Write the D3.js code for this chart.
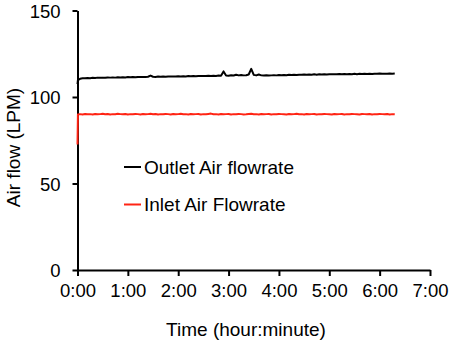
<!DOCTYPE html>
<html><head><meta charset="utf-8">
<script src="https://cdn.jsdelivr.net/npm/d3@7"></script>
<style>
html,body{margin:0;padding:0;background:#fff;}
svg{display:block;font-family:"Liberation Sans",Arial,sans-serif;}
</style></head>
<body>
<svg id="c" width="450" height="343"></svg>
<script>
// time in minutes
const times = [0, 0.5].concat(d3.range(3, 381, 3));
const outletFlow = [107.5, 109.8,
 110.5,110.8,110.9,111.0,110.9,111.1,111.0,111.2,111.1,111.2,
 111.1,111.3,111.2,111.3,111.2,111.4,111.3,111.4,111.3,111.5,
 111.4,111.5,111.4,111.6,111.5,111.6,111.5,111.7,112.4,111.7,
 111.6,111.8,111.7,111.8,111.7,111.9,111.8,111.9,111.8,112.0,
 111.9,112.0,111.9,112.1,112.0,112.1,112.0,112.2,112.1,112.2,
 112.1,112.3,112.2,112.3,112.2,112.4,112.3,114.8,112.4,112.3,
 112.6,112.4,112.9,112.5,112.7,112.5,112.6,113.0,116.3,112.8,
 112.5,113.0,112.5,112.4,112.6,112.4,112.5,112.6,112.5,112.7,
 112.6,112.7,112.6,112.9,112.7,112.8,112.7,112.9,112.8,113.0,
 112.8,113.0,112.9,113.1,112.9,113.1,113.0,113.2,113.0,113.2,
 113.1,113.2,113.1,113.3,113.1,113.3,113.2,113.3,113.2,113.4,
 113.2,113.4,113.3,113.5,113.3,113.4,113.3,113.5,113.4,113.6,
 113.4,113.5,113.4,113.6,113.5,113.6];
const inletFlow = [72.5, 89.9,
 90.1,89.9,90.2,90.0,90.1,89.9,90.2,90.0,90.1,90.3,
 90.0,90.2,89.9,90.1,90.0,90.3,90.1,90.0,90.2,89.9,
 90.1,90.0,90.2,90.1,89.9,90.2,90.0,90.1,90.3,90.0,
 90.2,89.9,90.1,90.0,90.2,90.1,89.9,90.2,90.0,90.1,
 90.3,90.0,90.1,89.9,90.2,90.0,90.1,90.2,89.9,90.1,
 90.0,90.2,90.4,90.0,90.1,89.9,90.2,90.0,90.1,90.2,
 89.9,90.1,90.0,90.2,90.1,89.9,90.0,90.2,90.3,90.0,
 90.1,89.9,90.2,90.0,90.1,90.2,89.9,90.1,90.0,90.2,
 90.1,90.0,89.9,90.2,90.0,90.1,90.3,90.0,90.1,89.9,
 90.2,90.0,90.1,90.2,89.9,90.1,90.0,90.2,90.1,90.0,
 89.9,90.2,90.0,90.1,90.2,89.9,90.1,90.0,90.2,90.1,
 90.0,89.9,90.2,90.1,90.0,90.2,89.9,90.1,90.0,90.2,
 90.1,90.0,90.2,89.9,90.1,90.0];
const xTickValues = [0, 60, 120, 180, 240, 300, 360, 420];
const xTickLabels = ["0:00","1:00","2:00","3:00","4:00","5:00","6:00","7:00"];
const yTickValues = [0, 50, 100, 150];
const seriesNames = ["Outlet Air flowrate", "Inlet Air Flowrate"];
const seriesColors = ["#000000", "#ff2414"];

const svg = d3.select("#c");
const x = d3.scaleLinear().domain([0, 420]).range([77.5, 430]);
const y = d3.scaleLinear().domain([0, 150]).range([270, 10.5]);

const fs = "18.5px";

const xAxis = svg.append("g").attr("transform", "translate(0,270)")
  .call(d3.axisBottom(x).tickValues(xTickValues).tickFormat((d,i)=>xTickLabels[i]).tickSize(6).tickSizeOuter(0).tickPadding(8));
const yAxis = svg.append("g").attr("transform", "translate(77.5,0)")
  .call(d3.axisLeft(y).tickValues(yTickValues).tickSize(5).tickSizeOuter(0).tickPadding(12));
[xAxis, yAxis].forEach(g => {
  g.selectAll("path,line").attr("stroke", "#000").attr("stroke-width", 2);
  g.selectAll("text").attr("font-size", fs).attr("fill", "#000").attr("font-family", "Liberation Sans, Arial, sans-serif");
});
yAxis.selectAll("text").attr("dy", "0.36em");

const series = [outletFlow, inletFlow];
const line = d3.line().x((d,i)=>x(times[i])).y(d=>y(d));
series.forEach((vals, k) => {
  svg.append("path").datum(vals)
    .attr("d", line)
    .attr("fill", "none")
    .attr("stroke", seriesColors[k])
    .attr("stroke-width", 2)
    .attr("stroke-linejoin", "round");
});

// legend
const legY = [167, 204.5];
seriesNames.forEach((name, k) => {
  svg.append("line").attr("x1", 124).attr("x2", 141).attr("y1", legY[k]).attr("y2", legY[k])
    .attr("stroke", seriesColors[k]).attr("stroke-width", 2);
  svg.append("text").attr("x", 144).attr("y", legY[k]).attr("dy", "0.36em")
    .attr("font-size", "19px").text(name);
});

// titles
svg.append("text").attr("x", 246).attr("y", 336).attr("text-anchor", "middle")
  .attr("font-size", "19px").text("Time (hour:minute)");
svg.append("text").attr("transform", "translate(19.5,147.5) rotate(-90)").attr("text-anchor", "middle")
  .attr("font-size", "19px").text("Air flow (LPM)");
</script>
</body></html>
